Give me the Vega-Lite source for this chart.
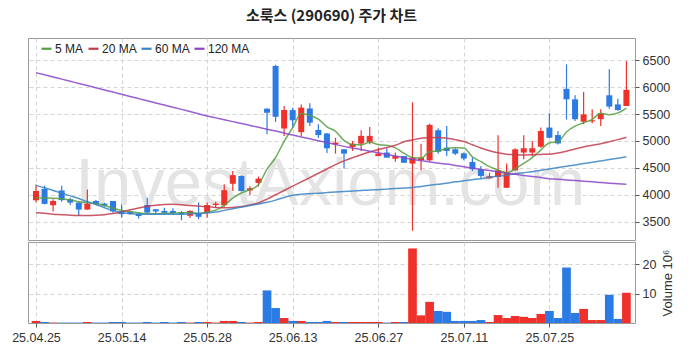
{
  "$schema": "https://vega.github.io/schema/vega-lite/v6.json",
  "background": "white",
  "padding": {"left": 11, "top": 8, "right": 0, "bottom": 0},
  "title": {"text": "소룩스 (290690) 주가 차트", "font": "Noto Sans CJK KR", "fontSize": 15, "fontWeight": "bold", "color": "#222222", "anchor": "middle", "frame": "group", "offset": 14},
  "spacing": 0,
  "datasets": {
    "px": [
      {"i":0,"d":"25.04.25","o":3900,"h":4190,"l":3860,"c":4070,"v":0.7,"m5":3946,"m20":3665,"m60":4175,"m120":6270},
      {"i":1,"d":"25.04.28","o":4110,"h":4170,"l":3820,"c":3830,"v":0.35,"m5":3940,"m20":3655,"m60":4130,"m120":6230},
      {"i":2,"d":"25.04.29","o":3805,"h":3915,"l":3690,"c":3885,"v":0.15,"m5":3935,"m20":3640,"m60":4080,"m120":6190},
      {"i":3,"d":"25.04.30","o":4080,"h":4170,"l":3870,"c":3900,"v":0.15,"m5":3925,"m20":3630,"m60":4030,"m120":6150},
      {"i":4,"d":"25.05.02","o":3915,"h":3945,"l":3810,"c":3855,"v":0.15,"m5":3908,"m20":3620,"m60":3980,"m120":6110},
      {"i":5,"d":"25.05.07","o":3855,"h":3870,"l":3605,"c":3725,"v":0.15,"m5":3870,"m20":3615,"m60":3930,"m120":6070},
      {"i":6,"d":"25.05.08","o":3725,"h":4100,"l":3720,"c":3835,"v":0.35,"m5":3855,"m20":3615,"m60":3870,"m120":6030},
      {"i":7,"d":"25.05.09","o":3885,"h":3905,"l":3810,"c":3825,"v":0.15,"m5":3835,"m20":3620,"m60":3820,"m120":5990},
      {"i":8,"d":"25.05.12","o":3835,"h":3850,"l":3780,"c":3800,"v":0.15,"m5":3800,"m20":3630,"m60":3760,"m120":5950},
      {"i":9,"d":"25.05.13","o":3885,"h":3885,"l":3665,"c":3690,"v":0.35,"m5":3750,"m20":3650,"m60":3710,"m120":5910},
      {"i":10,"d":"25.05.14","o":3700,"h":3820,"l":3575,"c":3640,"v":0.35,"m5":3710,"m20":3680,"m60":3670,"m120":5868},
      {"i":11,"d":"25.05.15","o":3680,"h":3690,"l":3630,"c":3640,"v":0.15,"m5":3690,"m20":3720,"m60":3650,"m120":5828},
      {"i":12,"d":"25.05.16","o":3650,"h":3660,"l":3560,"c":3605,"v":0.15,"m5":3665,"m20":3755,"m60":3640,"m120":5788},
      {"i":13,"d":"25.05.19","o":3810,"h":3945,"l":3635,"c":3670,"v":0.35,"m5":3650,"m20":3785,"m60":3640,"m120":5748},
      {"i":14,"d":"25.05.20","o":3730,"h":3730,"l":3625,"c":3690,"v":0.15,"m5":3649,"m20":3805,"m60":3640,"m120":5708},
      {"i":15,"d":"25.05.21","o":3700,"h":3760,"l":3625,"c":3665,"v":0.35,"m5":3654,"m20":3820,"m60":3640,"m120":5668},
      {"i":16,"d":"25.05.22","o":3700,"h":3750,"l":3625,"c":3660,"v":0.15,"m5":3658,"m20":3822,"m60":3640,"m120":5628},
      {"i":17,"d":"25.05.23","o":3675,"h":3700,"l":3525,"c":3635,"v":0.35,"m5":3664,"m20":3815,"m60":3640,"m120":5588},
      {"i":18,"d":"25.05.26","o":3610,"h":3710,"l":3570,"c":3700,"v":0.15,"m5":3670,"m20":3800,"m60":3645,"m120":5548},
      {"i":19,"d":"25.05.27","o":3660,"h":3855,"l":3545,"c":3590,"v":0.35,"m5":3655,"m20":3790,"m60":3650,"m120":5508},
      {"i":20,"d":"25.05.28","o":3665,"h":3855,"l":3575,"c":3810,"v":0.35,"m5":3679,"m20":3775,"m60":3660,"m120":5465},
      {"i":21,"d":"25.05.29","o":3810,"h":3870,"l":3760,"c":3835,"v":0.15,"m5":3714,"m20":3765,"m60":3680,"m120":5430},
      {"i":22,"d":"25.05.30","o":3805,"h":4195,"l":3775,"c":4085,"v":0.7,"m5":3804,"m20":3760,"m60":3710,"m120":5395},
      {"i":23,"d":"25.06.02","o":4205,"h":4440,"l":4070,"c":4365,"v":0.7,"m5":3937,"m20":3765,"m60":3740,"m120":5360},
      {"i":24,"d":"25.06.04","o":4350,"h":4360,"l":4060,"c":4070,"v":0.35,"m5":4033,"m20":3780,"m60":3770,"m120":5325},
      {"i":25,"d":"25.06.05","o":4080,"h":4160,"l":3995,"c":4120,"v":0.15,"m5":4095,"m20":3810,"m60":3800,"m120":5290},
      {"i":26,"d":"25.06.09","o":4220,"h":4340,"l":4155,"c":4300,"v":0.35,"m5":4188,"m20":3850,"m60":3830,"m120":5255},
      {"i":27,"d":"25.06.10","o":5600,"h":5610,"l":5125,"c":5525,"v":11.1,"m5":4476,"m20":3920,"m60":3860,"m120":5220},
      {"i":28,"d":"25.06.11","o":6395,"h":6415,"l":5355,"c":5450,"v":5.1,"m5":4693,"m20":4000,"m60":3900,"m120":5185},
      {"i":29,"d":"25.06.12","o":5230,"h":5650,"l":5095,"c":5575,"v":1.7,"m5":4994,"m20":4080,"m60":3950,"m120":5148},
      {"i":30,"d":"25.06.13","o":5575,"h":5620,"l":5245,"c":5385,"v":0.7,"m5":5247,"m20":4160,"m60":3990,"m120":5111},
      {"i":31,"d":"25.06.16","o":5165,"h":5680,"l":5095,"c":5620,"v":0.7,"m5":5511,"m20":4240,"m60":4010,"m120":5075},
      {"i":32,"d":"25.06.17","o":5605,"h":5700,"l":5280,"c":5340,"v":0.35,"m5":5474,"m20":4320,"m60":4020,"m120":5040},
      {"i":33,"d":"25.06.18","o":5205,"h":5310,"l":5055,"c":5110,"v":0.35,"m5":5406,"m20":4400,"m60":4030,"m120":5005},
      {"i":34,"d":"25.06.19","o":5140,"h":5150,"l":4775,"c":4865,"v":0.7,"m5":5264,"m20":4480,"m60":4040,"m120":4970},
      {"i":35,"d":"25.06.20","o":4940,"h":5060,"l":4765,"c":4970,"v":0.35,"m5":5181,"m20":4560,"m60":4050,"m120":4935},
      {"i":36,"d":"25.06.23","o":4845,"h":4850,"l":4490,"c":4765,"v":0.35,"m5":5010,"m20":4630,"m60":4060,"m120":4900},
      {"i":37,"d":"25.06.24","o":4890,"h":5000,"l":4815,"c":4950,"v":0.35,"m5":4932,"m20":4690,"m60":4070,"m120":4870},
      {"i":38,"d":"25.06.25","o":4950,"h":5200,"l":4815,"c":5095,"v":0.35,"m5":4929,"m20":4745,"m60":4080,"m120":4840},
      {"i":39,"d":"25.06.26","o":4985,"h":5260,"l":4940,"c":5095,"v":0.35,"m5":4975,"m20":4795,"m60":4090,"m120":4810},
      {"i":40,"d":"25.06.27","o":4720,"h":4875,"l":4715,"c":4765,"v":0.35,"m5":4934,"m20":4840,"m60":4095,"m120":4780},
      {"i":41,"d":"25.06.30","o":4785,"h":4865,"l":4690,"c":4690,"v":0.15,"m5":4919,"m20":4880,"m60":4105,"m120":4750},
      {"i":42,"d":"25.07.01","o":4670,"h":4785,"l":4615,"c":4720,"v":0.35,"m5":4873,"m20":4920,"m60":4115,"m120":4720},
      {"i":43,"d":"25.07.02","o":4720,"h":4720,"l":4595,"c":4595,"v":0.35,"m5":4773,"m20":4985,"m60":4125,"m120":4690},
      {"i":44,"d":"25.07.03","o":4580,"h":5720,"l":3330,"c":4690,"v":25.4,"m5":4692,"m20":5020,"m60":4135,"m120":4660},
      {"i":45,"d":"25.07.04","o":4640,"h":4950,"l":4455,"c":4690,"v":2.6,"m5":4677,"m20":5050,"m60":4155,"m120":4635},
      {"i":46,"d":"25.07.07","o":4640,"h":5320,"l":4630,"c":5300,"v":7.2,"m5":4799,"m20":5065,"m60":4175,"m120":4610},
      {"i":47,"d":"25.07.08","o":5200,"h":5235,"l":4765,"c":4800,"v":4.1,"m5":4815,"m20":5065,"m60":4195,"m120":4590},
      {"i":48,"d":"25.07.09","o":4875,"h":5280,"l":4720,"c":4815,"v":3.8,"m5":4859,"m20":5050,"m60":4215,"m120":4570},
      {"i":49,"d":"25.07.10","o":4845,"h":4865,"l":4740,"c":4765,"v":0.7,"m5":4874,"m20":5025,"m60":4240,"m120":4545},
      {"i":50,"d":"25.07.11","o":4770,"h":4785,"l":4640,"c":4675,"v":0.7,"m5":4871,"m20":4990,"m60":4260,"m120":4520},
      {"i":51,"d":"25.07.14","o":4610,"h":4690,"l":4440,"c":4475,"v":0.7,"m5":4706,"m20":4930,"m60":4280,"m120":4495},
      {"i":52,"d":"25.07.15","o":4475,"h":4535,"l":4300,"c":4350,"v":1.0,"m5":4616,"m20":4870,"m60":4300,"m120":4470},
      {"i":53,"d":"25.07.16","o":4305,"h":4410,"l":4300,"c":4345,"v":0.35,"m5":4522,"m20":4820,"m60":4325,"m120":4450},
      {"i":54,"d":"25.07.17","o":4330,"h":5105,"l":4130,"c":4455,"v":2.7,"m5":4460,"m20":4780,"m60":4345,"m120":4425},
      {"i":55,"d":"25.07.18","o":4130,"h":4580,"l":4125,"c":4420,"v":1.7,"m5":4409,"m20":4755,"m60":4365,"m120":4400},
      {"i":56,"d":"25.07.21","o":4455,"h":4865,"l":4445,"c":4845,"v":2.4,"m5":4483,"m20":4745,"m60":4390,"m120":4380},
      {"i":57,"d":"25.07.22","o":4785,"h":5105,"l":4660,"c":4865,"v":2.1,"m5":4586,"m20":4740,"m60":4410,"m120":4360},
      {"i":58,"d":"25.07.23","o":4785,"h":5000,"l":4720,"c":4865,"v":1.7,"m5":4690,"m20":4745,"m60":4430,"m120":4340},
      {"i":59,"d":"25.07.24","o":4895,"h":5250,"l":4875,"c":5185,"v":3.1,"m5":4836,"m20":4750,"m60":4455,"m120":4320},
      {"i":60,"d":"25.07.25","o":5250,"h":5515,"l":5055,"c":5060,"v":4.1,"m5":4964,"m20":4755,"m60":4480,"m120":4300},
      {"i":61,"d":"25.07.28","o":5110,"h":5185,"l":4935,"c":4955,"v":1.7,"m5":4986,"m20":4775,"m60":4505,"m120":4288},
      {"i":62,"d":"25.07.29","o":5970,"h":6425,"l":5400,"c":5775,"v":18.9,"m5":5168,"m20":4810,"m60":4530,"m120":4276},
      {"i":63,"d":"25.07.30","o":5775,"h":5850,"l":5370,"c":5405,"v":3.4,"m5":5276,"m20":4850,"m60":4555,"m120":4264},
      {"i":64,"d":"25.07.31","o":5360,"h":5910,"l":5310,"c":5495,"v":4.8,"m5":5338,"m20":4890,"m60":4580,"m120":4252},
      {"i":65,"d":"25.08.01","o":5365,"h":5590,"l":5330,"c":5385,"v":1.0,"m5":5403,"m20":4920,"m60":4605,"m120":4240},
      {"i":66,"d":"25.08.04","o":5405,"h":5590,"l":5280,"c":5515,"v":1.0,"m5":5515,"m20":4950,"m60":4630,"m120":4228},
      {"i":67,"d":"25.08.05","o":5850,"h":6335,"l":5600,"c":5640,"v":9.6,"m5":5488,"m20":4985,"m60":4655,"m120":4216},
      {"i":68,"d":"25.08.06","o":5680,"h":5785,"l":5560,"c":5575,"v":1.4,"m5":5522,"m20":5025,"m60":4680,"m120":4205},
      {"i":69,"d":"25.08.07","o":5650,"h":6485,"l":5650,"c":5950,"v":10.3,"m5":5613,"m20":5070,"m60":4705,"m120":4195}
    ]
  },
  "vconcat": [
    {
      "width": 607,
      "height": 202,
      "data": {"name": "px"},
      "layer": [
        {
          "data": {"values": [{}]},
          "mark": {"type": "text", "text": "InvestAxiom.com", "font": "Liberation Sans", "fontSize": 67, "color": "#e4e4e4", "align": "center", "baseline": "alphabetic"},
          "encoding": {
            "x": {"datum": 34.4, "type": "quantitative", "scale": {"domain": [-0.35, 69.42], "nice": false, "zero": false},
                  "axis": {"values": [0, 10, 20, 30, 40, 50, 60], "labels": false, "ticks": false, "domain": false, "grid": true, "title": null}},
            "y": {"datum": 3810, "type": "quantitative", "scale": {"domain": [3159, 6915], "nice": false, "zero": false},
                  "axis": {"orient": "right", "values": [3500, 4000, 4500, 5000, 5500, 6000, 6500], "format": "d", "title": null, "domain": false, "grid": true, "tickSize": 4, "labelPadding": 3}}
          }
        },
        {
          "mark": {"type": "rule", "strokeWidth": 1.2},
          "encoding": {
            "x": {"field": "i", "type": "quantitative", "scale": {"domain": [-0.35, 69.42], "nice": false, "zero": false},
                  "axis": {"values": [0, 10, 20, 30, 40, 50, 60], "labels": false, "ticks": false, "domain": false, "grid": true, "title": null}},
            "y": {"field": "l", "type": "quantitative", "scale": {"domain": [3159, 6915], "nice": false, "zero": false},
                  "axis": {"orient": "right", "values": [3500, 4000, 4500, 5000, 5500, 6000, 6500], "format": "d", "title": null, "domain": false, "grid": true, "tickSize": 4, "labelPadding": 3}},
            "y2": {"field": "h"},
            "color": {"condition": {"test": "datum.c >= datum.o", "value": "#f0302a"}, "value": "#2c7be5"}
          }
        },
        {
          "mark": {"type": "bar", "size": 6},
          "encoding": {
            "x": {"field": "i", "type": "quantitative",
                  "axis": {"values": [0, 10, 20, 30, 40, 50, 60], "labels": false, "ticks": false, "domain": false, "grid": true, "title": null}},
            "y": {"field": "o", "type": "quantitative",
                  "axis": {"orient": "right", "values": [3500, 4000, 4500, 5000, 5500, 6000, 6500], "format": "d", "title": null, "domain": false, "grid": true, "tickSize": 4, "labelPadding": 3}},
            "y2": {"field": "c"},
            "color": {"condition": {"test": "datum.c >= datum.o", "value": "#f0302a"}, "value": "#2c7be5"}
          }
        },
        {
          "transform": [{"fold": ["m5", "m20", "m60", "m120"], "as": ["ma", "val"]}],
          "mark": {"type": "line", "strokeWidth": 1.5, "interpolate": "monotone", "opacity": 0.85},
          "encoding": {
            "x": {"field": "i", "type": "quantitative",
                  "axis": {"values": [0, 10, 20, 30, 40, 50, 60], "labels": false, "ticks": false, "domain": false, "grid": true, "title": null}},
            "y": {"field": "val", "type": "quantitative",
                  "axis": {"orient": "right", "values": [3500, 4000, 4500, 5000, 5500, 6000, 6500], "format": "d", "title": null, "domain": false, "grid": true, "tickSize": 4, "labelPadding": 3}},
            "color": {
              "field": "ma", "type": "nominal",
              "scale": {"domain": ["m5", "m20", "m60", "m120"], "range": ["#559e40", "#c23b4c", "#3a84c4", "#8a44c8"]},
              "legend": {"orient": "none", "legendX": 12, "legendY": 4, "direction": "horizontal", "title": null, "symbolType": "stroke", "symbolStrokeWidth": 2.2, "symbolSize": 100, "symbolOpacity": 1,
                         "labelFont": "Liberation Sans", "labelFontSize": 12, "labelColor": "#222222", "labelOffset": 2, "columnPadding": 0, "padding": 0,
                         "labelExpr": "replace(datum.value, 'm', '') + ' MA'"}
            }
          }
        }
      ]
    },
    {
      "width": 607,
      "height": 81,
      "data": {"name": "px"},
      "mark": {"type": "bar", "size": 8.7},
      "encoding": {
        "x": {"field": "i", "type": "quantitative", "scale": {"domain": [-0.35, 69.42], "nice": false, "zero": false},
              "axis": {"values": [0, 10, 20, 30, 40, 50, 60], "title": null, "grid": true, "domain": false, "tickSize": 4, "labelPadding": 4,
                       "labelExpr": "['25.04.25','25.05.14','25.05.28','25.06.13','25.06.27','25.07.11','25.07.25'][round(datum.value / 10)]"}},
        "y": {"field": "v", "type": "quantitative", "scale": {"domain": [0, 27.6], "nice": false},
              "axis": {"orient": "right", "values": [10, 20], "title": "Volume  10⁶", "titleAngle": 270, "titleBaseline": "top", "titlePadding": 6, "domain": false, "grid": true, "tickSize": 4, "labelPadding": 3}},
        "color": {"condition": {"test": "datum.c >= datum.o", "value": "#f0302a"}, "value": "#2c7be5"}
      }
    }
  ],
  "config": {
    "view": {"stroke": "#9a9a9a", "strokeWidth": 1},
    "axis": {"gridColor": "#cfcfcf", "gridDash": [4, 3], "gridWidth": 0.9, "labelFont": "Liberation Sans", "labelFontSize": 12.5, "labelColor": "#333333", "tickColor": "#555555",
             "titleFont": "Liberation Sans", "titleFontSize": 13, "titleFontWeight": "normal", "titleColor": "#333333"}
  }
}
